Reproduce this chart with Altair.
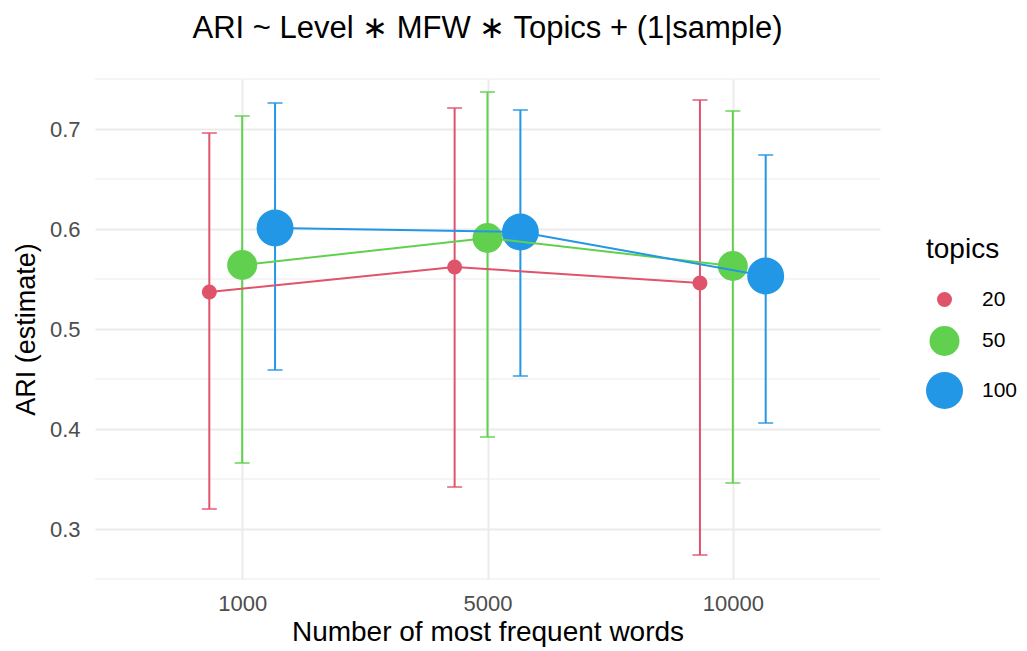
import altair as alt
import pandas as pd

mfw_levels = ["1000", "5000", "10000"]
topic_levels = ["20", "50", "100"]

# estimates, lower and upper bounds per topics group, in MFW order
est_20 = [0.537, 0.562, 0.546]
lo_20 = [0.320, 0.342, 0.274]
hi_20 = [0.696, 0.721, 0.729]

est_50 = [0.564, 0.591, 0.563]
lo_50 = [0.366, 0.392, 0.346]
hi_50 = [0.713, 0.737, 0.718]

est_100 = [0.601, 0.597, 0.553]
lo_100 = [0.459, 0.453, 0.406]
hi_100 = [0.726, 0.719, 0.674]

minor_grid = [0.25, 0.35, 0.45, 0.55, 0.65, 0.75]

rows = []
for t, e, l, h in [("20", est_20, lo_20, hi_20), ("50", est_50, lo_50, hi_50), ("100", est_100, lo_100, hi_100)]:
    for i, m in enumerate(mfw_levels):
        rows.append({"mfw": m, "topics": t, "est": e[i], "lo": l[i], "hi": h[i]})
df = pd.DataFrame(rows)

FONT = "Liberation Sans"
colors = ["#DF536B", "#61D04F", "#2297E6"]

base = alt.Chart(df).transform_calculate(
    xpos="indexof(['1000','5000','10000'], datum.mfw) + 1 + (datum.topics == '20' ? -0.134 : (datum.topics == '100' ? 0.134 : 0))",
    order="indexof(['1000','5000','10000'], datum.mfw)",
)

xscale = alt.Scale(domain=[0.4, 3.6], nice=False, zero=False)
yscale = alt.Scale(domain=[0.25, 0.75], nice=False, zero=False)

x_axis = alt.Axis(
    values=[1, 2, 3],
    labelExpr="['1000','5000','10000'][datum.value - 1]",
    grid=True,
    gridColor="#EBEBEB",
    gridWidth=2,
    domain=False,
    ticks=False,
    labelFont=FONT,
    labelFontSize=22,
    labelColor="#4D4D4D",
    labelPadding=14,
    titleFont=FONT,
    titleFontSize=28,
    titleFontWeight="normal",
    titleColor="#000000",
    titlePadding=4,
)
y_axis = alt.Axis(
    values=[0.3, 0.4, 0.5, 0.6, 0.7],
    format=".1f",
    grid=True,
    gridColor="#EBEBEB",
    gridWidth=2,
    domain=False,
    ticks=False,
    labelFont=FONT,
    labelFontSize=22,
    labelColor="#4D4D4D",
    labelPadding=15,
    titleFont=FONT,
    titleFontSize=27,
    titleFontWeight="normal",
    titleColor="#000000",
    titlePadding=9,
)

legend = alt.Legend(
    title="topics",
    orient="none",
    legendX=831,
    legendY=157,
    titleFont=FONT,
    titleFontSize=28,
    titleFontWeight="normal",
    titleColor="#000000",
    titlePadding=25,
    labelFont=FONT,
    labelFontSize=21,
    labelColor="#000000",
    labelOffset=19,
    rowPadding=16,
    symbolOpacity=1,
    symbolStrokeWidth=0,
)

xenc = alt.X("xpos:Q", scale=xscale, title="Number of most frequent words", axis=x_axis)
color = alt.Color("topics:O", scale=alt.Scale(domain=topic_levels, range=colors), legend=legend)
size = alt.Size(
    "topics:O",
    scale=alt.Scale(type="ordinal", domain=topic_levels, range=[225, 900, 1369]),
    legend=legend,
)
cnone = alt.Color("topics:O", scale=alt.Scale(domain=topic_levels, range=colors), legend=None)

minor = alt.Chart(pd.DataFrame({"g": minor_grid})).mark_rule(
    color="#EBEBEB", strokeWidth=1
).encode(y=alt.Y("g:Q", scale=yscale, title="ARI (estimate)", axis=y_axis))

points = base.mark_circle(opacity=1).encode(
    x=xenc, y=alt.Y("est:Q", scale=yscale, title="ARI (estimate)", axis=y_axis), color=color, size=size
)
rules = base.mark_rule(strokeWidth=2).encode(
    x=alt.X("xpos:Q", scale=xscale), y=alt.Y("lo:Q", scale=yscale), y2="hi:Q", color=cnone,
)
caps_lo = base.mark_tick(orient="horizontal", size=15, thickness=2).encode(
    x=alt.X("xpos:Q", scale=xscale), y=alt.Y("lo:Q", scale=yscale), color=cnone,
)
caps_hi = base.mark_tick(orient="horizontal", size=15, thickness=2).encode(
    x=alt.X("xpos:Q", scale=xscale), y=alt.Y("hi:Q", scale=yscale), color=cnone,
)
lines = base.mark_line(strokeWidth=2).encode(
    x=alt.X("xpos:Q", scale=xscale), y=alt.Y("est:Q", scale=yscale),
    color=cnone,
    detail="topics:O",
    order="order:Q",
)

chart = alt.layer(minor, points, rules, caps_lo, caps_hi, lines).properties(
    width=785,
    height=500,
    background="white",
    title=alt.Title(
        "ARI ~ Level ∗ MFW ∗ Topics + (1|sample)",
        font=FONT,
        fontSize=31,
        fontWeight="normal",
        color="#000000",
        anchor="middle",
        offset=34,
    ),
    autosize=alt.AutoSizeParams(type="none"),
    padding={"left": 87, "top": 71, "right": 139, "bottom": 80},
).configure_view(strokeWidth=0, stroke="transparent")

chart.save("out.html", embed_options={"renderer": "svg", "actions": False})
